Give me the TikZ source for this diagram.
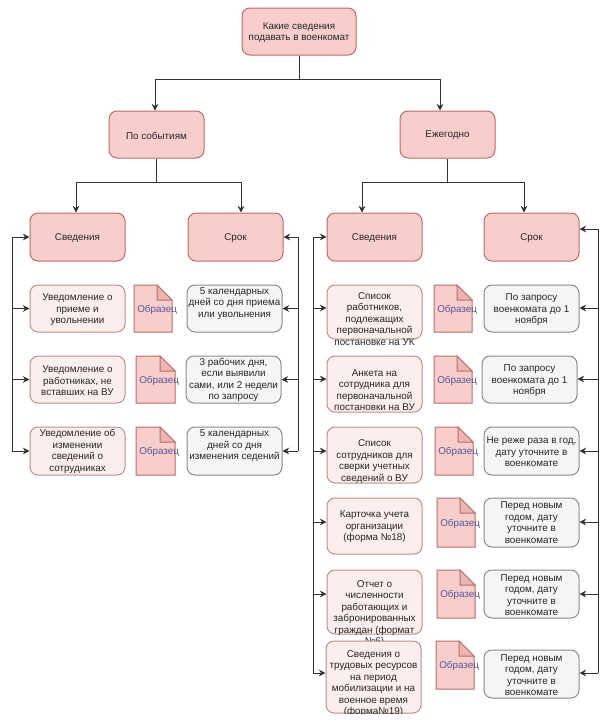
\documentclass[tikz,border=0pt]{standalone}
\usepackage{fontspec}
\setmainfont{Liberation Sans}
\usetikzlibrary{arrows.meta}
\definecolor{redfill}{HTML}{F8CECC}
\definecolor{redline}{HTML}{B96C68}
\definecolor{palefill}{HTML}{FBEEEC}
\definecolor{paleline}{HTML}{BD8F8B}
\definecolor{greyfill}{HTML}{F5F5F5}
\definecolor{greyline}{HTML}{8A8A8A}
\definecolor{docblue}{HTML}{55559A}
\definecolor{docfold}{HTML}{EDB5B2}
\definecolor{wire}{HTML}{333333}
\tikzset{
  boxbase/.style={rounded corners=6pt,line width=.75pt,inner sep=0pt},
  redbox/.style={boxbase,draw=redline,fill=redfill},
  palebox/.style={boxbase,draw=paleline,fill=palefill},
  greybox/.style={boxbase,draw=greyline,fill=greyfill},
  boxtext/.style={align=center,inner sep=0pt,text=black!85,font=\fontsize{7.4}{8.6}\selectfont},
  wireline/.style={draw=wire,line width=.75pt},
  arrowline/.style={wireline,-{Stealth[length=5pt,width=5pt]}},
  doclabel/.style={text=docblue,inner sep=0pt,anchor=west,font=\fontsize{7.4}{9}\selectfont},
}
% name, style, x1, y1, x2, y2
\newcommand{\bxx}[6]{%
  \pgfmathsetmacro{\bw}{(#5-#3)*0.75}\pgfmathsetmacro{\bh}{(#6-#4)*0.75}%
  \node[#2,minimum width=\bw pt,minimum height=\bh pt] (#1) at ({(#3+#5)/2},{(#4+#6)/2}) {};}
% [downward offset], box name, text
\newcommand{\tx}[3][1]{\node[boxtext] (#2t) at ([yshift=-#1*0.75pt]#2.center) {#3};}
% name, x1, y1, x2, y2
\newcommand{\dc}[5]{%
  \draw[line width=.75pt,draw=redline,fill=redfill] (#2,#3) -- ({#4-15},#3) -- (#4,{#3+15}) -- (#4,#5) -- (#2,#5) -- cycle;
  \draw[line width=.75pt,draw=redline,fill=docfold] ({#4-15},#3) -- ({#4-15},{#3+15}) -- (#4,{#3+15}) -- cycle;
  \node[doclabel] (#1) at ({#2+3},{(#3+#5)/2+1}) {Образец};}
\begin{document}
\begin{tikzpicture}[x=0.75pt,y=-0.75pt]
\useasboundingbox (0,0) rectangle (600,725);
\fill[white] (0,0) rectangle (600,725);

% Tree levels
\bxx{top}{redbox}{242}{8}{356}{55}\tx{top}{Какие сведения\\подавать в военкомат}
\bxx{ev}{redbox}{109}{111}{204}{158}\tx{ev}{По событиям}
\bxx{yr}{redbox}{400}{111}{495}{158}\tx{yr}{Ежегодно}
\bxx{ls}{redbox}{30}{213}{125}{261}\tx{ls}{Сведения}
\bxx{lt}{redbox}{188}{213}{283}{261}\tx{lt}{Срок}
\bxx{rs}{redbox}{327}{213}{422}{261}\tx{rs}{Сведения}
\bxx{rt}{redbox}{484}{213}{579}{261}\tx{rt}{Срок}

% Left group
\bxx{l1}{palebox}{30}{285}{125}{332}\tx[1.5]{l1}{Уведомление о\\приеме и\\увольнении}
\bxx{l2}{palebox}{30}{356}{125}{403}\tx[1.5]{l2}{Уведомление о\\работниках, не\\вставших на ВУ}
\bxx{l3}{palebox}{30}{427}{125}{475}\tx[0.5]{l3}{Уведомление об\\изменении\\сведений о\\сотрудниках}
\dc{dl1}{134}{285}{172}{332}
\dc{dl2}{136}{356}{175}{403}
\dc{dl3}{136}{427}{175}{475}
\bxx{t1}{greybox}{187}{285}{282}{332}\tx[-5]{t1}{5 календарных\\дней со дня приема\\или увольнения}
\bxx{t2}{greybox}{186}{356}{281}{403}\tx[0.5]{t2}{3 рабочих дня,\\если выявили\\сами, или 2 недели\\по запросу}
\bxx{t3}{greybox}{187}{427}{282}{475}\tx[-5]{t3}{5 календарных\\дней со дня\\изменения седений}

% Right group
\bxx{r1}{palebox}{327}{285}{422}{339}\tx[7]{r1}{Список\\работников,\\подлежащих\\первоначальной\\постановке на УК}
\bxx{r2}{palebox}{327}{356}{422}{412}\tx[6]{r2}{Анкета на\\сотрудника для\\первоначальной\\постановки на ВУ}
\bxx{r3}{palebox}{327}{427}{422}{483}\tx[6.5]{r3}{Список\\сотрудников для\\сверки учетных\\сведений о ВУ}
\bxx{r4}{palebox}{327}{498}{422}{554}\tx[1]{r4}{Карточка учета\\организации\\(форма №18)}
\bxx{r5}{palebox}{327}{570}{422}{634}\tx[11.5]{r5}{Отчет о\\численности\\работающих и\\забронированных\\граждан (формат\\№6)}
\bxx{r6}{palebox}{326}{641}{421}{713}
\begin{scope}
\clip (300,630) rectangle (440,713);
\tx[6.5]{r6}{Сведения о\\трудовых ресурсов\\на период\\мобилизации и на\\военное время\\(форма№19)}
\end{scope}
\dc{dr1}{434}{285}{472}{332}
\dc{dr2}{434}{356}{472}{403}
\dc{dr3}{435}{427}{473}{475}
\dc{dr4}{437}{498}{475}{547}
\dc{dr5}{437}{570}{475}{618}
\dc{dr6}{436}{641}{474}{689}
\bxx{p1}{greybox}{484}{285}{579}{332}\tx[1.5]{p1}{По запросу\\военкомата до 1\\ноября}
\bxx{p2}{greybox}{482}{356}{577}{403}\tx[1.5]{p2}{По запросу\\военкомата до 1\\ноября}
\bxx{p3}{greybox}{484}{427}{579}{475}\tx[1]{p3}{Не реже раза в год,\\дату уточните в\\военкомате}
\bxx{p4}{greybox}{484}{498}{579}{547}\tx[0]{p4}{Перед новым\\годом, дату\\уточните в\\военкомате}
\bxx{p5}{greybox}{484}{570}{579}{618}\tx[1]{p5}{Перед новым\\годом, дату\\уточните в\\военкомате}
\bxx{p6}{greybox}{484}{650}{579}{698}\tx[1]{p6}{Перед новым\\годом, дату\\уточните в\\военкомате}

% Tree connectors
\coordinate (j0) at (299,79);
\coordinate (j0l) at (155,79);
\coordinate (j0r) at (440,79);
\draw[wireline] (top.south) -- (top.south |- j0);
\draw[wireline] (j0l) -- (j0r);
\draw[arrowline] (j0l) -- (j0l |- ev.north);
\draw[arrowline] (j0r) -- (j0r |- yr.north);

\coordinate (j1) at (156,182);
\coordinate (j1l) at (76,182);
\coordinate (j1r) at (241,182);
\draw[wireline] (ev.south) -- (ev.south |- j1);
\draw[wireline] (j1l) -- (j1r);
\draw[arrowline] (j1l) -- (j1l |- ls.north);
\draw[arrowline] (j1r) -- (j1r |- lt.north);

\coordinate (j2) at (447,182);
\coordinate (j2l) at (362,182);
\coordinate (j2r) at (524,182);
\draw[wireline] (yr.south) -- (yr.south |- j2);
\draw[wireline] (j2l) -- (j2r);
\draw[arrowline] (j2l) -- (j2l |- rs.north);
\draw[arrowline] (j2r) -- (j2r |- rt.north);

% Left group buses
\coordinate (ba1) at (12,237);
\coordinate (ba2) at (12,308.5);
\coordinate (ba3) at (12,379.5);
\coordinate (ba4) at (12,451);
\draw[wireline] (ba1) -- (ba4);
\foreach \c/\n in {ba1/ls,ba2/l1,ba3/l2,ba4/l3} \draw[arrowline] (\c) -- (\c -| \n.west);
\coordinate (bb1) at (298,237);
\coordinate (bb2) at (298,308.5);
\coordinate (bb3) at (298,379.5);
\coordinate (bb4) at (298,451);
\draw[wireline] (bb1) -- (bb4);
\foreach \c/\n in {bb1/lt,bb2/t1,bb3/t2,bb4/t3} \draw[arrowline] (\c) -- (\c -| \n.east);

% Right group buses
\coordinate (bc1) at (313,237);
\coordinate (bc2) at (313,308);
\coordinate (bc3) at (313,379);
\coordinate (bc4) at (313,451);
\coordinate (bc5) at (313,522);
\coordinate (bc6) at (313,594);
\coordinate (bc7) at (313,673);
\draw[wireline] (bc1) -- (bc7);
\foreach \c/\n in {bc1/rs,bc2/r1,bc3/r2,bc4/r3,bc5/r4,bc6/r5,bc7/r6} \draw[arrowline] (\c) -- (\c -| \n.west);
\coordinate (bd1) at (598,229);
\coordinate (bd2) at (598,308);
\coordinate (bd3) at (598,379);
\coordinate (bd4) at (598,451);
\coordinate (bd5) at (598,522);
\coordinate (bd6) at (598,594);
\coordinate (bd7) at (598,673);
\draw[wireline] (bd1) -- (bd7);
\foreach \c/\n in {bd1/rt,bd2/p1,bd3/p2,bd4/p3,bd5/p4,bd6/p5,bd7/p6} \draw[arrowline] (\c) -- (\c -| \n.east);
\end{tikzpicture}
\end{document}
